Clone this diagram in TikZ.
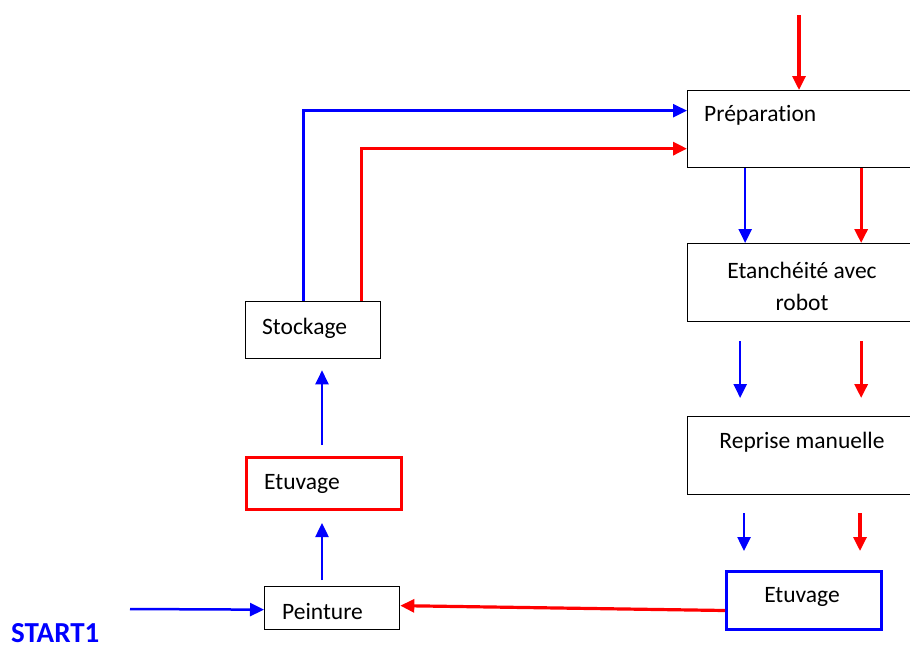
\documentclass[tikz,border=0pt]{standalone}
\usepackage{fontspec}
\setmainfont{Carlito}[Ligatures=NoCommon]
\usetikzlibrary{arrows.meta}
\definecolor{pblue}{RGB}{0,0,255}
\definecolor{pred}{RGB}{255,0,0}
\begin{document}
\begin{tikzpicture}[x=1pt,y=-1pt,
  box/.style={draw=black,line width=1.3pt,inner sep=0pt,anchor=north west},
  txt/.style={inner sep=0pt,font=\fontsize{23.5}{32}\selectfont,text=black},
  bluearr/.style={draw=pblue,line width=2.5pt,-{Triangle[length=14pt,width=13pt]}},
  redarr/.style={draw=pred,line width=3.2pt,-{Triangle[length=14pt,width=13pt]}}]
\useasboundingbox (0,0) rectangle (910,651);
\clip (0,0) rectangle (910,651);
% boxes
\node[box,minimum width=226pt,minimum height=77pt] (prep) at (687,90) {};
\node[box,minimum width=226pt,minimum height=78pt] (etan) at (687,243) {};
\node[box,minimum width=226pt,minimum height=78pt] (rep) at (687,416) {};
\node[box,draw=pblue,line width=3pt,minimum width=155pt,minimum height=58pt] (etu2) at (725,570) {};
\node[box,minimum width=135pt,minimum height=43pt] (pein) at (264,586) {};
\node[box,draw=pred,line width=3pt,minimum width=155pt,minimum height=52pt] (etu1) at (245,456) {};
\node[box,minimum width=135pt,minimum height=57pt] (stock) at (245,301) {};
% texts
\node[txt,anchor=west] (tprep) at (704,115) {Préparation};
\node[txt,align=center] (tetan) at (802,286) {Etanchéité avec\\robot};
\node[txt] (trep) at (802,442) {Reprise manuelle};
\node[txt] (tetu2) at (802,597) {Etuvage};
\node[txt,anchor=west] (tpein) at (282,611) {Peinture};
\node[txt,anchor=west] (tetu1) at (264,484) {Etuvage};
\node[txt,anchor=west] (tstock) at (262,328) {Stockage};
\node[inner sep=0pt,anchor=west,text=pblue,font=\fontsize{29}{30}\selectfont\bfseries] (start) at (11,633) {START1};
% coordinates for free ends
\coordinate (topin) at (799,15);
\coordinate (startin) at (130,609);
\coordinate (c1) at (322,580);
\coordinate (c2) at (322,445);
\coordinate (c3) at (744,513);
\coordinate (c4) at (860,513);
% connectors
\draw[redarr] (topin) -- (topin |- prep.north);
\draw[bluearr] ([xshift=-9.5pt]stock.north) |- ([yshift=18.5pt]prep.west);
\draw[redarr] ([xshift=48.5pt]stock.north) |- ([yshift=-19.5pt]prep.west);
\draw[bluearr] ([xshift=-55.5pt]prep.south) -- ([xshift=-55.5pt]etan.north);
\draw[redarr] ([xshift=60.5pt]prep.south) -- ([xshift=60.5pt]etan.north);
\draw[bluearr] ([xshift=-60.5pt,yshift=-19pt]etan.south) -- ([xshift=-60.5pt,yshift=18pt]rep.north);
\draw[redarr] ([xshift=60.5pt,yshift=-19pt]etan.south) -- ([xshift=60.5pt,yshift=18pt]rep.north);
\draw[bluearr] (c3) -- ([yshift=19pt]c3 |- etu2.north);
\draw[redarr] (c4) -- ([yshift=19pt]c4 |- etu2.north);
\draw[redarr] ([yshift=-10pt]etu2.west) -- ([yshift=2.5pt]pein.east);
\draw[bluearr] (startin) -- ([yshift=-1.5pt]pein.west);
\draw[bluearr] (c1) -- ([yshift=-12pt]c1 |- etu1.south);
\draw[bluearr] (c2) -- ([yshift=-11pt]c2 |- stock.south);
\end{tikzpicture}
\end{document}
